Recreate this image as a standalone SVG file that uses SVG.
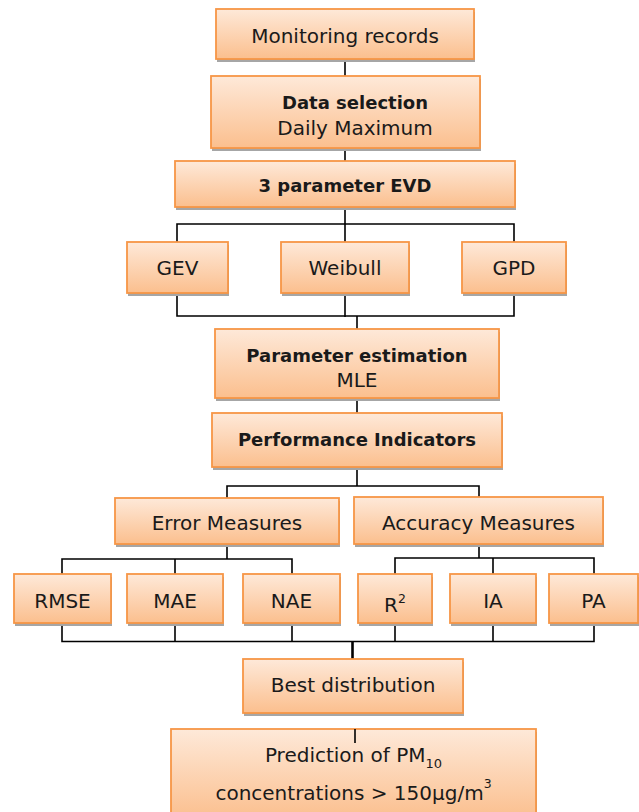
<svg xmlns="http://www.w3.org/2000/svg" width="639" height="812" viewBox="0 0 639 812">
<defs>
<linearGradient id="g" x1="0" y1="0" x2="0" y2="1">
<stop offset="0" stop-color="#FEE9D9"/>
<stop offset="1" stop-color="#FBBF8E"/>
</linearGradient>
<style>
.s{fill:#A6A6A6}
.b{fill:url(#g);stroke:#F79646;stroke-width:1.8}
text{font-family:"DejaVu Sans","Liberation Sans",sans-serif;font-size:20px;fill:#1a1a1a;text-anchor:middle}
.bd{font-weight:bold;font-size:18px}
.c{fill:none;stroke:#000;stroke-width:1.6}
.t{fill:none;stroke:#000;stroke-width:2.6}
</style>
</defs>
<rect width="639" height="812" fill="#fff"/>
<g id="connectors">
<path class="c" d="M345 59V76M345 148V161"/>
<path class="c" d="M345 207V224M177 242V224H514V242M345 224V242"/>
<path class="c" d="M177 293V316H514V293M345 293V317M357 316V329"/>
<path class="c" d="M357 398V413"/>
<path class="c" d="M357 467V486M227 498V486H479V497"/>
<path class="c" d="M227 544V559M62 574V559H292V574M175 559V574"/>
<path class="c" d="M479 544V558M395 574V558H594V574M493 558V574"/>
<path class="c" d="M62 623V641.5H594V623M175 623V641.5M292 623V641.5M395 623V641.5M493 623V641.5"/>
<path class="t" d="M352.5 641.5V659"/>
</g>
<g id="monitoring"><rect class="s" x="217" y="12" width="258" height="50"/><rect class="b" x="216" y="9" width="258" height="50"/><text x="345" y="43">Monitoring records</text></g>
<g id="dataselection"><rect class="s" x="212" y="79" width="269" height="72"/><rect class="b" x="211" y="76" width="269" height="72"/><text class="bd" x="355" y="109">Data selection</text><text x="355" y="135">Daily Maximum</text></g>
<g id="evd"><rect class="s" x="176" y="164" width="340" height="46"/><rect class="b" x="175" y="161" width="340" height="46"/><text class="bd" x="345" y="192">3 parameter EVD</text></g>
<g id="gev"><rect class="s" x="128" y="245" width="101" height="51"/><rect class="b" x="127" y="242" width="101" height="51"/><text x="177.5" y="275">GEV</text></g>
<g id="weibull"><rect class="s" x="282" y="245" width="128" height="51"/><rect class="b" x="281" y="242" width="128" height="51"/><text x="345" y="275">Weibull</text></g>
<g id="gpd"><rect class="s" x="463" y="245" width="104" height="51"/><rect class="b" x="462" y="242" width="104" height="51"/><text x="514" y="275">GPD</text></g>
<g id="paramestimation"><rect class="s" x="216" y="332" width="284" height="69"/><rect class="b" x="215" y="329" width="284" height="69"/><text class="bd" x="357" y="362">Parameter estimation</text><text x="357" y="387">MLE</text></g>
<g id="performance"><rect class="s" x="213" y="416" width="290" height="54"/><rect class="b" x="212" y="413" width="290" height="54"/><text class="bd" x="357" y="446">Performance Indicators</text></g>
<g id="error"><rect class="s" x="116" y="501" width="224" height="46"/><rect class="b" x="115" y="498" width="224" height="46"/><text x="227" y="530">Error Measures</text></g>
<g id="accuracy"><rect class="s" x="355" y="500" width="249" height="47"/><rect class="b" x="354" y="497" width="249" height="47"/><text x="478.5" y="530">Accuracy Measures</text></g>
<g id="rmse"><rect class="s" x="15" y="577" width="97" height="49"/><rect class="b" x="14" y="574" width="97" height="49"/><text x="62.5" y="608">RMSE</text></g>
<g id="mae"><rect class="s" x="128" y="577" width="96" height="49"/><rect class="b" x="127" y="574" width="96" height="49"/><text x="175" y="608">MAE</text></g>
<g id="nae"><rect class="s" x="244" y="577" width="97" height="49"/><rect class="b" x="243" y="574" width="97" height="49"/><text x="291.5" y="608">NAE</text></g>
<g id="r2"><rect class="s" x="359" y="577" width="74" height="49"/><rect class="b" x="358" y="574" width="74" height="49"/><text x="395" y="612">R<tspan font-size="12.5" dy="-9">2</tspan></text></g>
<g id="ia"><rect class="s" x="451" y="577" width="86" height="49"/><rect class="b" x="450" y="574" width="86" height="49"/><text x="493" y="608">IA</text></g>
<g id="pa"><rect class="s" x="550" y="577" width="89" height="49"/><rect class="b" x="549" y="574" width="89" height="49"/><text x="593.5" y="608">PA</text></g>
<g id="best"><rect class="s" x="244" y="662" width="220" height="54"/><rect class="b" x="243" y="659" width="220" height="54"/><text x="353" y="692">Best distribution</text></g>
<g id="prediction"><rect class="s" x="172" y="732" width="365" height="90"/><rect class="b" x="171" y="729" width="365" height="90"/><text x="353.5" y="762">Prediction of PM<tspan font-size="13" dy="6">10</tspan></text><text x="353.5" y="800">concentrations &gt; 150µg/m<tspan font-size="12.5" dy="-12">3</tspan></text></g>
<path class="c" d="M355 729V743"/>
</svg>
